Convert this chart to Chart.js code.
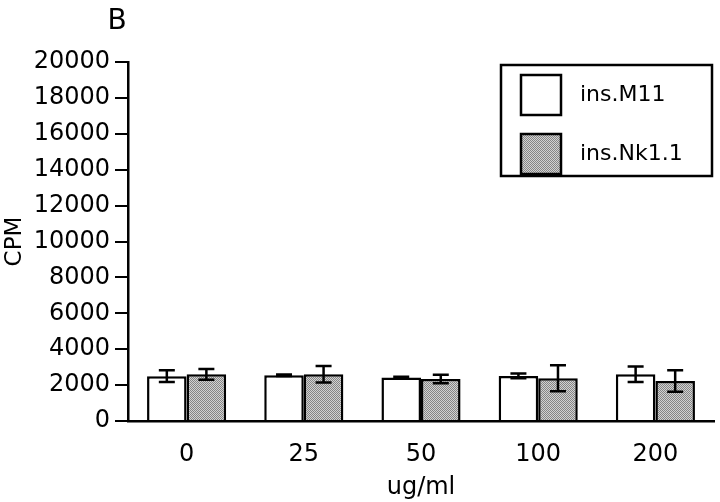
<!DOCTYPE html>
<html>
<head>
<meta charset="utf-8">
<script src="https://cdn.jsdelivr.net/npm/chart.js@4.4.1/dist/chart.umd.min.js"></script>
<style>
  html, body { margin: 0; padding: 0; background: #ffffff; }
  #wrap { width: 720px; height: 502px; position: relative; }
</style>
</head>
<body>
<div id="wrap"><canvas id="c" width="720" height="502"></canvas></div>
<script>
// ---- data ----
const categories = ['0', '25', '50', '100', '200'];
const seriesNames = ['ins.M11', 'ins.Nk1.1'];
const m11Values = [2500, 2550, 2420, 2510, 2600];
const m11Errors = [330, 40, 50, 130, 430];
const nkValues = [2600, 2600, 2340, 2380, 2230];
const nkErrors = [300, 460, 240, 720, 600];
const yTicks = [0, 2000, 4000, 6000, 8000, 10000, 12000, 14000, 16000, 18000, 20000];
const panelLabel = 'B';
const xTitle = 'ug/ml';
const yTitle = 'CPM';

// ---- stipple pattern for the grey series ----
function makePattern() {
  const p = document.createElement('canvas');
  p.width = 2; p.height = 2;
  const g = p.getContext('2d');
  g.fillStyle = '#d2d2d2'; g.fillRect(0, 0, 2, 2);
  g.fillStyle = '#858585'; g.fillRect(0, 0, 1, 1); g.fillRect(1, 1, 1, 1);
  return g.createPattern(p, 'repeat');
}
const ctx0 = document.getElementById('c').getContext('2d');
const greyPattern = makePattern();

const FONT = "'DejaVu Sans', sans-serif";
const LW = 2.5;

const errorBars = {
  id: 'errorBars',
  afterDatasetsDraw(chart) {
    const ctx = chart.ctx;
    const y = chart.scales.y;
    ctx.save();
    ctx.strokeStyle = '#000';
    ctx.lineWidth = LW;
    chart.data.datasets.forEach((ds, di) => {
      const meta = chart.getDatasetMeta(di);
      meta.data.forEach((bar, i) => {
        const v = ds.data[i], e = ds.errors[i];
        const yt = y.getPixelForValue(v + e);
        const yb = y.getPixelForValue(v - e);
        const x = bar.x, hw = 8;
        ctx.beginPath();
        ctx.moveTo(x, yt); ctx.lineTo(x, yb);
        ctx.moveTo(x - hw, yt); ctx.lineTo(x + hw, yt);
        ctx.moveTo(x - hw, yb); ctx.lineTo(x + hw, yb);
        ctx.stroke();
      });
    });
    ctx.restore();
  }
};

const decorations = {
  id: 'decorations',
  afterDraw(chart) {
    const ctx = chart.ctx;
    ctx.save();
    // panel label
    ctx.fillStyle = '#000';
    ctx.font = '28px ' + FONT;
    ctx.textAlign = 'center';
    ctx.textBaseline = 'middle';
    ctx.fillText(panelLabel, 117, 22);
    // legend box
    const bx = 501, by = 65, bw = 211, bh = 111;
    ctx.lineWidth = LW;
    ctx.strokeStyle = '#000';
    ctx.strokeRect(bx, by, bw, bh);
    const rows = [95, 154];
    chart.data.datasets.forEach((ds, i) => {
      const cy = rows[i];
      ctx.fillStyle = ds.backgroundColor;
      ctx.fillRect(521, cy - 20, 40, 40);
      ctx.lineWidth = LW;
      ctx.strokeRect(521, cy - 20, 40, 40);
      ctx.fillStyle = '#000';
      ctx.font = '22px ' + FONT;
      ctx.textAlign = 'left';
      ctx.textBaseline = 'middle';
      ctx.fillText(ds.label, 580, cy);
    });
    ctx.restore();
  }
};

new Chart(ctx0, {
  type: 'bar',
  data: {
    labels: categories,
    datasets: [
      { label: seriesNames[0], data: m11Values, errors: m11Errors,
        backgroundColor: '#ffffff', borderColor: '#000', borderWidth: LW, borderSkipped: 'bottom' },
      { label: seriesNames[1], data: nkValues, errors: nkErrors,
        backgroundColor: greyPattern, borderColor: '#000', borderWidth: LW, borderSkipped: 'bottom' }
    ]
  },
  options: {
    responsive: false,
    animation: false,
    devicePixelRatio: 1,
    layout: { padding: { top: 62, right: 6, bottom: 0, left: 0 } },
    datasets: { bar: { categoryPercentage: 0.675, barPercentage: 1.0 } },
    plugins: { legend: { display: false }, title: { display: false }, tooltip: { enabled: false } },
    scales: {
      x: {
        grid: { display: false, drawTicks: false },
        border: { display: true, color: '#000', width: LW },
        ticks: { color: '#000', font: { family: FONT, size: 24 }, padding: 19 },
        title: { display: true, text: xTitle, color: '#000', font: { family: FONT, size: 24 }, padding: { top: 0, bottom: 0 } },
        afterFit(s) { s.height = 81; }
      },
      y: {
        min: 0, max: 20000,
        afterBuildTicks(s) { s.ticks = yTicks.map(v => ({ value: v })); },
        grid: { display: true, drawOnChartArea: false, drawTicks: true, tickLength: 13, color: '#000', lineWidth: 2 },
        border: { display: true, color: '#000', width: LW },
        ticks: { color: '#000', font: { family: FONT, size: 24 }, padding: 5, callback: (v) => String(v) },
        title: { display: true, text: yTitle, color: '#000', font: { family: FONT, size: 23 }, padding: { top: 1, bottom: 0 } },
        afterFit(s) { s.width = 128; }
      }
    }
  },
  plugins: [errorBars, decorations]
});
</script>
</body>
</html>
